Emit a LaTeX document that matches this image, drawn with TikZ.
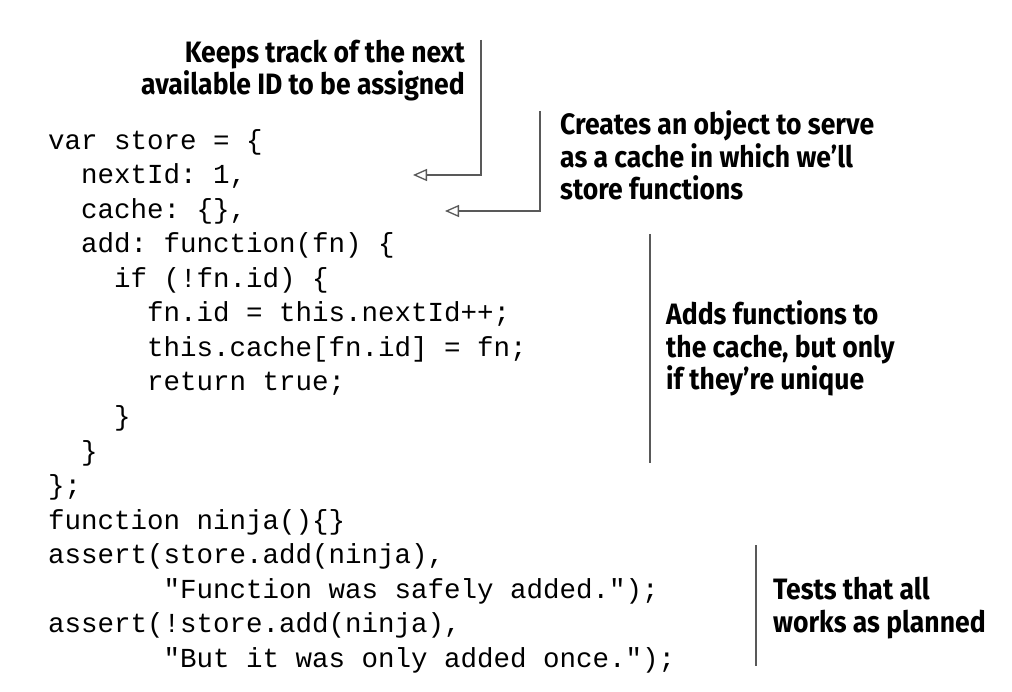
\documentclass[tikz,border=0pt]{standalone}
\usepackage{fontspec}
\setmonofont{Liberation Mono}
\newfontfamily\notefont[FakeStretch=0.9]{Fira Sans}
\usetikzlibrary{arrows.meta}
\tikzset{
	code/.style={anchor=base west, inner sep=0, font=\ttfamily\fontsize{27.5}{34.5}\selectfont},
	note/.style={inner sep=0, font=\notefont\bfseries\fontsize{29.5}{32.5}\selectfont},
	rule/.style={draw=black!65, line width=1.3pt},
	callout/.style={rule, -{Triangle[open, length=14pt, width=12pt]}},
}
\begin{document}
\begin{tikzpicture}[x=1pt,y=-1pt]
\useasboundingbox (0,0) rectangle (1012,692);
% the code
\node[code] (l0) at (48,149.5) {var store = \{};
\node[code] (l1) at (81,184) {nextId: 1,};
\node[code] (l2) at (81,218.5) {cache: \{\},};
\node[code] (l3) at (81,253) {add: function(fn) \{};
\node[code] (l4) at (114,287.5) {if (!fn.id) \{};
\node[code] (l5) at (147,322) {fn.id = this.nextId++;};
\node[code] (l6) at (147,356.5) {this.cache[fn.id] = fn;};
\node[code] (l7) at (147,391) {return true;};
\node[code] (l8) at (114,425.5) {\}};
\node[code] (l9) at (81,460) {\}};
\node[code] (l10) at (48,494.5) {\};};
\node[code] (l11) at (48,529) {function ninja()\{\}};
\node[code] (l12) at (48,563.5) {assert(store.add(ninja),};
\node[code] (l13) at (163.5,598) {"Function was safely added.");};
\node[code] (l14) at (48,632.5) {assert(!store.add(ninja),};
\node[code] (l15) at (163.5,667) {"But it was only added once.");};
% the notes (base = last line)
\node[note, anchor=base east, align=right] (keeps) at (465,95)
	{Keeps track of the next\\available ID to be assigned};
\node[note, anchor=base west, align=left] (cachenote) at (560,200)
	{Creates an object to serve\\as a cache in which we’ll\\store functions};
\node[note, anchor=base west, align=left] (addnote) at (666,390)
	{Adds functions to\\the cache, but only\\if they’re unique};
\node[note, anchor=base west, align=left] (testnote) at (773,632)
	{Tests that all\\works as planned};
% arrows and rules
\coordinate (nextid) at (413,175);
\coordinate (cache) at (445,211);
\draw[callout] ([xshift=16pt]keeps.north east) |- (nextid);
\draw[callout] ([xshift=-20pt]cachenote.north west) |- (cache);
\draw[rule] (650,234) -- (650,463);
\draw[rule] (756,545) -- (756,666);
\end{tikzpicture}
\end{document}
